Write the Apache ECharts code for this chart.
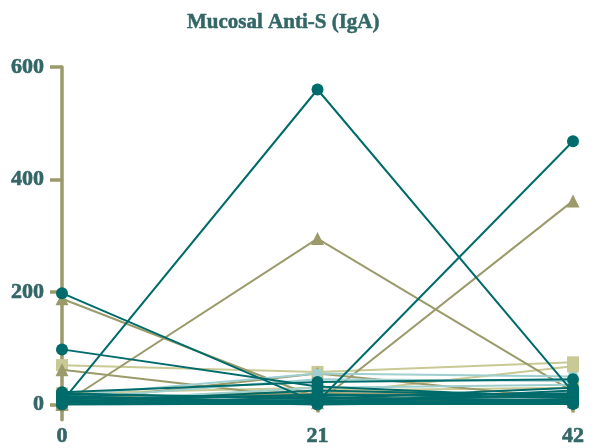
<!DOCTYPE html>
<html>
<head>
<meta charset="utf-8">
<script src="https://cdn.jsdelivr.net/npm/echarts@6/dist/echarts.min.js"></script>
<style>html,body{margin:0;padding:0;background:#fff}#c{width:602px;height:448px}</style>
</head>
<body>
<div id="c"></div>
<script>
// Days (x categories) and tick labels
const days = [0, 21, 42];
const yTicks = [0, 200, 400, 600];
const chartTitle = 'Mucosal Anti-S (IgA)';

// Per-subject values at days 0, 21, 42
const khakiSquares = [
  [70, 58, 75],
  [12, 18, 68],
  [20, 30, 12],
  [8, 25, 30]
];
const oliveTriangles = [
  [0, 295, 23],
  [2, 3, 362],
  [188, 12, 5],
  [62, 10, 15],
  [5, 55, 10],
  [10, 20, 18]
];
const cyanLines = [
  [15, 55, 50],
  [10, 45, 42],
  [5, 30, 35]
];
const tealCircles = [
  [5, 560, 22],
  [5, 5, 468],
  [198, 3, 8],
  [98, 32, 12],
  [22, 40, 45],
  [20, 10, 30],
  [3, 25, 15],
  [8, 0, 5],
  [2, 5, 2],
  [0, 2, 10],
  [10, 15, 20],
  [4, 8, 3],
  [15, 3, 25],
  [1, 1, 1],
  [18, 12, 8],
  [6, 18, 12],
  [12, 6, 18],
  [3, 12, 6]
];

const groups = [
  { rows: khakiSquares, color: '#c9c996', symbol: 'rect', size: 12 },
  { rows: oliveTriangles, color: '#9a9a6a', symbol: 'triangle', size: 13 },
  { rows: cyanLines, color: '#9fcfcf', symbol: 'rect', size: 9 },
  { rows: tealCircles, color: '#006b6b', symbol: 'circle', size: 12 }
];

const series = [];
groups.forEach((g, gi) => {
  g.rows.forEach(row => {
    series.push({
      type: 'line',
      data: row.map((v, i) => [days[i], v]),
      symbol: g.symbol,
      symbolSize: g.size,
      showSymbol: true,
      lineStyle: { color: g.color, width: 2 },
      itemStyle: { color: g.color },
      z: 2 + gi,
      silent: true
    });
  });
});

const axisCol = '#9a9a6a';
const textCol = '#336666';
const fontStyle = {
  fontFamily: 'Liberation Serif', fontWeight: 'bold', fontSize: 22, color: textCol,
  textBorderColor: textCol, textBorderWidth: 0.6
};
const chart = echarts.init(document.getElementById('c'));
chart.setOption({
  animation: false,
  title: {
    text: chartTitle, left: 182, top: 7,
    textStyle: { fontFamily: 'Liberation Serif', fontWeight: 'bold', fontSize: 21, color: textCol,
      textBorderColor: textCol, textBorderWidth: 0.5 }
  },
  grid: { left: 62, right: 29, top: 67, bottom: 28, containLabel: false },
  xAxis: {
    type: 'value', min: 0, max: 42, interval: 21, offset: -8,
    axisLine: { show: false },
    axisTick: { show: true, length: 8, lineStyle: { color: axisCol, width: 3.5 } },
    splitLine: { show: false },
    axisLabel: Object.assign({ margin: 14 }, fontStyle)
  },
  yAxis: {
    type: 'value', min: -27, max: 600,
    axisLine: { show: true, lineStyle: { color: axisCol, width: 3.5 } },
    axisTick: { show: true, length: 12, customValues: yTicks, lineStyle: { color: axisCol, width: 3.5 } },
    splitLine: { show: false },
    axisLabel: Object.assign({ margin: 18, customValues: yTicks }, fontStyle)
  },
  series: series
});
</script>
</body>
</html>
